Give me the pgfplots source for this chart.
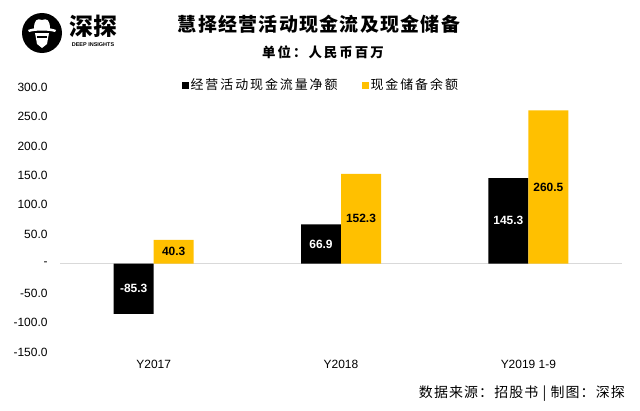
\documentclass[border=0pt]{standalone}
\usepackage{pgfplots}
\pgfplotsset{compat=1.18}
\usepackage{fontspec}
\setmainfont{Liberation Sans}
\newfontfamily\cjk{Noto Sans CJK SC}
\newfontfamily\cjkw{Noto Sans CJK SC}[LetterSpace=15]
\newfontfamily\cjkt{Noto Sans CJK SC}[LetterSpace=7]
\newfontfamily\cjks{Noto Sans CJK SC}[LetterSpace=8]
\definecolor{gold}{HTML}{FFC000}
\definecolor{axgray}{HTML}{D9D9D9}
\begin{document}
\begin{tikzpicture}[x=1bp,y=1bp]
\path[use as bounding box] (0,0) rectangle (640,410);
% logo
\fill[black] (42,377) circle (20);
\fill[white] (28,380) .. controls (35,383) and (49,383) .. (56,380) -- (55,378) .. controls (48,380) and (36,380) .. (29,378) -- cycle;
\fill[white] (34,381) .. controls (34,390) and (37,392) .. (42,390) .. controls (47,392) and (50,390) .. (50,381) -- cycle;
\fill[white] (35,377) -- (49,377) -- (47,366) -- (42,362) -- (37,366) -- cycle;
\fill[black] (37,372) rectangle (47,374);
\node[font=\cjk\bfseries\fontsize{24}{26}\selectfont, inner sep=0pt] at (93,384) {深探};
\node[font=\bfseries\fontsize{5.5}{6}\selectfont, inner sep=0pt] at (93,365) {DEEP INSIGHTS};
% titles
\node[font=\cjkt\bfseries\fontsize{19}{21}\selectfont, inner sep=0pt] at (319,386) {慧择经营活动现金流及现金储备};
\node[font=\cjkw\bfseries\fontsize{13.5}{15}\selectfont, inner sep=0pt] at (323,358) {单位：人民币百万};
% source
\node[font=\cjks\fontsize{14}{16}\selectfont, inner sep=0pt, anchor=east] at (625,16) {数据来源：招股书 | 制图：深探};
\begin{axis}[
  at={(60bp,58bp)}, anchor=south west,
  width=562bp, height=265bp, scale only axis,
  xmin=-0.5, xmax=2.5, ymin=-150, ymax=300,
  xtick={0,1,2}, xticklabels={Y2017,Y2018,Y2019 1-9},
  ytick={-150,-100,...,300},
  yticklabels={-150.0,-100.0,-50.0,-,50.0,100.0,150.0,200.0,250.0,300.0},
  extra y ticks={0}, extra y tick labels={},
  extra y tick style={grid=major, major grid style={axgray, line width=1bp}},
  axis line style={draw=none}, major tick length=0pt,
  xticklabel style={font=\fontsize{12}{14}\selectfont, yshift=-5bp},
  yticklabel style={font=\fontsize{12}{14}\selectfont, xshift=-9bp},
  ybar=0pt, bar width=40bp,
  clip=false,
  nodes near coords={\pgfmathprintnumber[fixed,fixed zerofill,precision=1,assume math mode=true]{\pgfplotspointmeta}},
  visualization depends on={rawy \as \rawy},
  every node near coord/.append style={anchor=center, yshift={(-0.29444)*(\rawy)*1bp}, font=\bfseries\fontsize{12}{14}\selectfont},
  legend columns=2,
  legend style={at={(0.464,1.0075)}, anchor=center, draw=none, fill=none,
    font=\cjkw\fontsize{13}{15}\selectfont,
    /tikz/every even column/.append style={column sep=22bp}},
  legend image code/.code={\path[#1] (0bp,-3.5bp) rectangle (7bp,3.5bp);},
]
\addplot[fill=black, draw=none, every node near coord/.append style={text=white}] coordinates {(0,-85.3) (1,66.9) (2,145.3)};
\addlegendentry{经营活动现金流量净额}
\addplot[fill=gold, draw=none, every node near coord/.append style={text=black}] coordinates {(0,40.3) (1,152.3) (2,260.5)};
\addlegendentry{现金储备余额}
\end{axis}
\end{tikzpicture}
\end{document}
